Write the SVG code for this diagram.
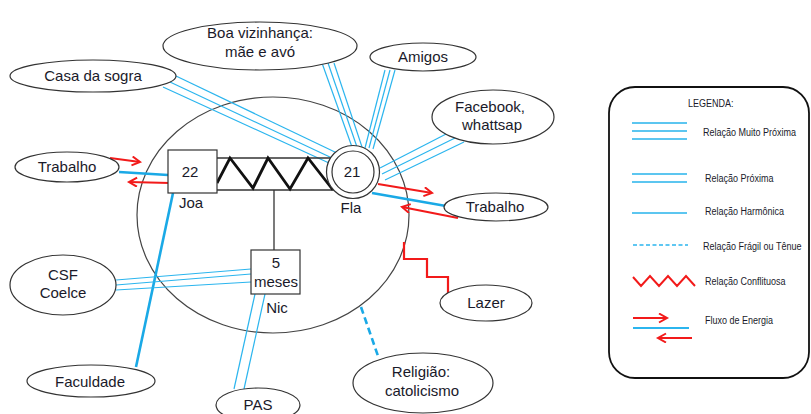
<svg xmlns="http://www.w3.org/2000/svg" width="811" height="414" viewBox="0 0 811 414">
<defs>
<style>
.lbl{font-family:"Liberation Sans",Arial,sans-serif;font-size:15px;fill:#1a1a2a;text-anchor:middle}
.leg{font-family:"Liberation Sans",Arial,sans-serif;font-size:11px;fill:#1a1a2a}
.node{fill:#fff;stroke:#333;stroke-width:1.2}
.thin{stroke:#2bb5ee;stroke-width:1.2;fill:none}
.thick{stroke:#1aa9e6;stroke-width:2.6;fill:none}
.red{stroke:#f21a1a;stroke-width:2.2;fill:none}
.lthin{stroke:#5cc6f0;stroke-width:1.8;fill:none}
</style>
<marker id="ah" markerWidth="12" markerHeight="12" refX="9" refY="5" orient="auto" markerUnits="userSpaceOnUse">
<polyline points="1,0.5 9,5 1,9.5" fill="none" stroke="#f21a1a" stroke-width="2"/>
</marker>
</defs>
<rect width="811" height="414" fill="#fff"/>

<g id="household">
<ellipse cx="273" cy="215" rx="136" ry="118" fill="none" stroke="#444" stroke-width="1.2"/>
</g>

<g id="connectors">
<line class="thin" x1="176" y1="76" x2="337" y2="153"/>
<line class="thin" x1="170" y1="82" x2="332" y2="158"/>
<line class="thin" x1="163" y1="87" x2="329" y2="163"/>
<line class="thin" x1="322" y1="63" x2="352" y2="147"/>
<line class="thin" x1="328" y1="63" x2="357" y2="147"/>
<line class="thin" x1="334" y1="63" x2="362" y2="147"/>
<line class="thin" x1="385" y1="70" x2="365" y2="148"/>
<line class="thin" x1="390" y1="70" x2="369" y2="148"/>
<line class="thin" x1="395" y1="70" x2="373" y2="149"/>
<line class="thin" x1="450" y1="132" x2="380" y2="168"/>
<line class="thin" x1="457" y1="137" x2="382" y2="174"/>
<line class="thin" x1="464" y1="142" x2="385" y2="180"/>
<line class="thick" x1="372" y1="193" x2="446" y2="206"/>
<line class="red" x1="378" y1="184" x2="432" y2="193" marker-end="url(#ah)"/>
<line class="red" x1="458" y1="218" x2="402" y2="207" marker-end="url(#ah)"/>
<line class="thick" x1="119" y1="172" x2="168" y2="175"/>
<line class="red" x1="110" y1="158" x2="140" y2="162" marker-end="url(#ah)"/>
<line class="red" x1="170" y1="183" x2="129" y2="182" marker-end="url(#ah)"/>
<line class="thick" x1="173" y1="193" x2="136" y2="367"/>
<line class="thin" x1="116" y1="280" x2="251" y2="269"/>
<line class="thin" x1="116" y1="285" x2="251" y2="274"/>
<line class="thin" x1="116" y1="290" x2="251" y2="282"/>
<line class="thin" x1="255" y1="294" x2="234" y2="389"/>
<line class="thin" x1="265" y1="294" x2="244" y2="389"/>
<line x1="361" y1="307" x2="378" y2="356" stroke="#1aa9e6" stroke-width="2.6" stroke-dasharray="7,4"/>
<polyline class="red" points="404,242 404,259 427,259 427,277 448,277 448,293" stroke-width="2.6"/>
<line x1="274" y1="190" x2="274" y2="250" stroke="#222" stroke-width="1.2"/>
<line x1="217" y1="158" x2="335" y2="158" stroke="#333" stroke-width="1.5"/>
<line x1="217" y1="190" x2="335" y2="190" stroke="#333" stroke-width="1.5"/>
<polyline points="217,183 230,158 253,188 268,158 290,189 308,158 333,190" fill="none" stroke="#111" stroke-width="2.8" stroke-linejoin="miter"/>
</g>

<g id="joa">
<rect class="node" x="168" y="150" width="49" height="43"/>
<text class="lbl" x="190" y="177">22</text>
<text class="lbl" x="191" y="208">Joa</text>
</g>

<g id="fla">
<circle cx="353" cy="172" r="26.5" class="node"/>
<circle cx="353" cy="172" r="21" fill="none" stroke="#333" stroke-width="1.2"/>
<text class="lbl" x="352" y="177">21</text>
<text class="lbl" x="351" y="213">Fla</text>
</g>

<g id="nic">
<rect class="node" x="251" y="250" width="49" height="44"/>
<text class="lbl" x="276" y="268">5</text>
<text class="lbl" x="276" y="287">meses</text>
<text class="lbl" x="277" y="313">Nic</text>
</g>

<g id="boa-vizinhanca">
<ellipse class="node" cx="260" cy="46" rx="97" ry="24"/>
<text class="lbl" x="260" y="38">Boa vizinhança:</text>
<text class="lbl" x="260" y="57">mãe e avó</text>
</g>

<g id="amigos">
<ellipse class="node" cx="423" cy="57" rx="53" ry="14"/>
<text class="lbl" x="423" y="62">Amigos</text>
</g>

<g id="casa-sogra">
<ellipse class="node" cx="93" cy="76" rx="83" ry="16"/>
<text class="lbl" x="93" y="81">Casa da sogra</text>
</g>

<g id="facebook">
<ellipse class="node" cx="493" cy="117" rx="61" ry="27"/>
<text class="lbl" x="490" y="112">Facebook,</text>
<text class="lbl" x="492" y="130">whattsap</text>
</g>

<g id="trabalho-esq">
<ellipse class="node" cx="67" cy="167" rx="52" ry="15"/>
<text class="lbl" x="67" y="172">Trabalho</text>
</g>

<g id="trabalho-dir">
<ellipse class="node" cx="496" cy="207" rx="52" ry="14"/>
<text class="lbl" x="495" y="212">Trabalho</text>
</g>

<g id="lazer">
<ellipse class="node" cx="486" cy="303" rx="46" ry="18"/>
<text class="lbl" x="486" y="308">Lazer</text>
</g>

<g id="religiao">
<ellipse class="node" cx="423" cy="383" rx="70" ry="30"/>
<text class="lbl" x="421" y="377">Religião:</text>
<text class="lbl" x="422" y="396">catolicismo</text>
</g>

<g id="pas">
<ellipse class="node" cx="258" cy="405" rx="42" ry="17"/>
<text class="lbl" x="258" y="410">PAS</text>
</g>

<g id="faculdade">
<ellipse class="node" cx="91" cy="381" rx="64" ry="16"/>
<text class="lbl" x="90" y="387">Faculdade</text>
</g>

<g id="csf">
<ellipse class="node" cx="63" cy="285" rx="53" ry="30"/>
<text class="lbl" x="63" y="280">CSF</text>
<text class="lbl" x="63" y="298">Coelce</text>
</g>

<g id="legenda">
<rect x="609" y="87" width="200" height="291" rx="26" ry="26" fill="#fff" stroke="#111" stroke-width="1.8"/>
<text class="leg" transform="translate(688,107) scale(0.82,1)">LEGENDA:</text>
<line class="lthin" x1="632" y1="123" x2="687" y2="123"/>
<line class="lthin" x1="632" y1="131" x2="687" y2="131"/>
<line class="lthin" x1="632" y1="139" x2="687" y2="139"/>
<text class="leg" transform="translate(703,136) scale(0.82,1)">Relação Muito Próxima</text>
<line class="lthin" x1="632" y1="174" x2="687" y2="174"/>
<line class="lthin" x1="632" y1="182" x2="687" y2="182"/>
<text class="leg" transform="translate(705,182) scale(0.82,1)">Relação Próxima</text>
<line class="lthin" x1="632" y1="213" x2="687" y2="213"/>
<text class="leg" transform="translate(705,215) scale(0.82,1)">Relação Harmônica</text>
<line x1="633" y1="245" x2="688" y2="245" stroke="#2bb5ee" stroke-width="1.6" stroke-dasharray="4,2.5"/>
<text class="leg" transform="translate(703,250) scale(0.82,1)">Relação Frágil ou Tênue</text>
<polyline points="633,277 641,286 650,276 659,286 668,276 677,286 686,276 695,286" fill="none" stroke="#f21a1a" stroke-width="2"/>
<text class="leg" transform="translate(705,285) scale(0.82,1)">Relação Conflituosa</text>
<line class="red" x1="633" y1="318" x2="667" y2="318" marker-end="url(#ah)" stroke-width="1.8"/>
<line x1="633" y1="328" x2="689" y2="328" stroke="#2bb5ee" stroke-width="1.8"/>
<line class="red" x1="692" y1="338" x2="658" y2="338" marker-end="url(#ah)" stroke-width="1.8"/>
<text class="leg" transform="translate(705,324) scale(0.82,1)">Fluxo de Energia</text>
</g>
</svg>
